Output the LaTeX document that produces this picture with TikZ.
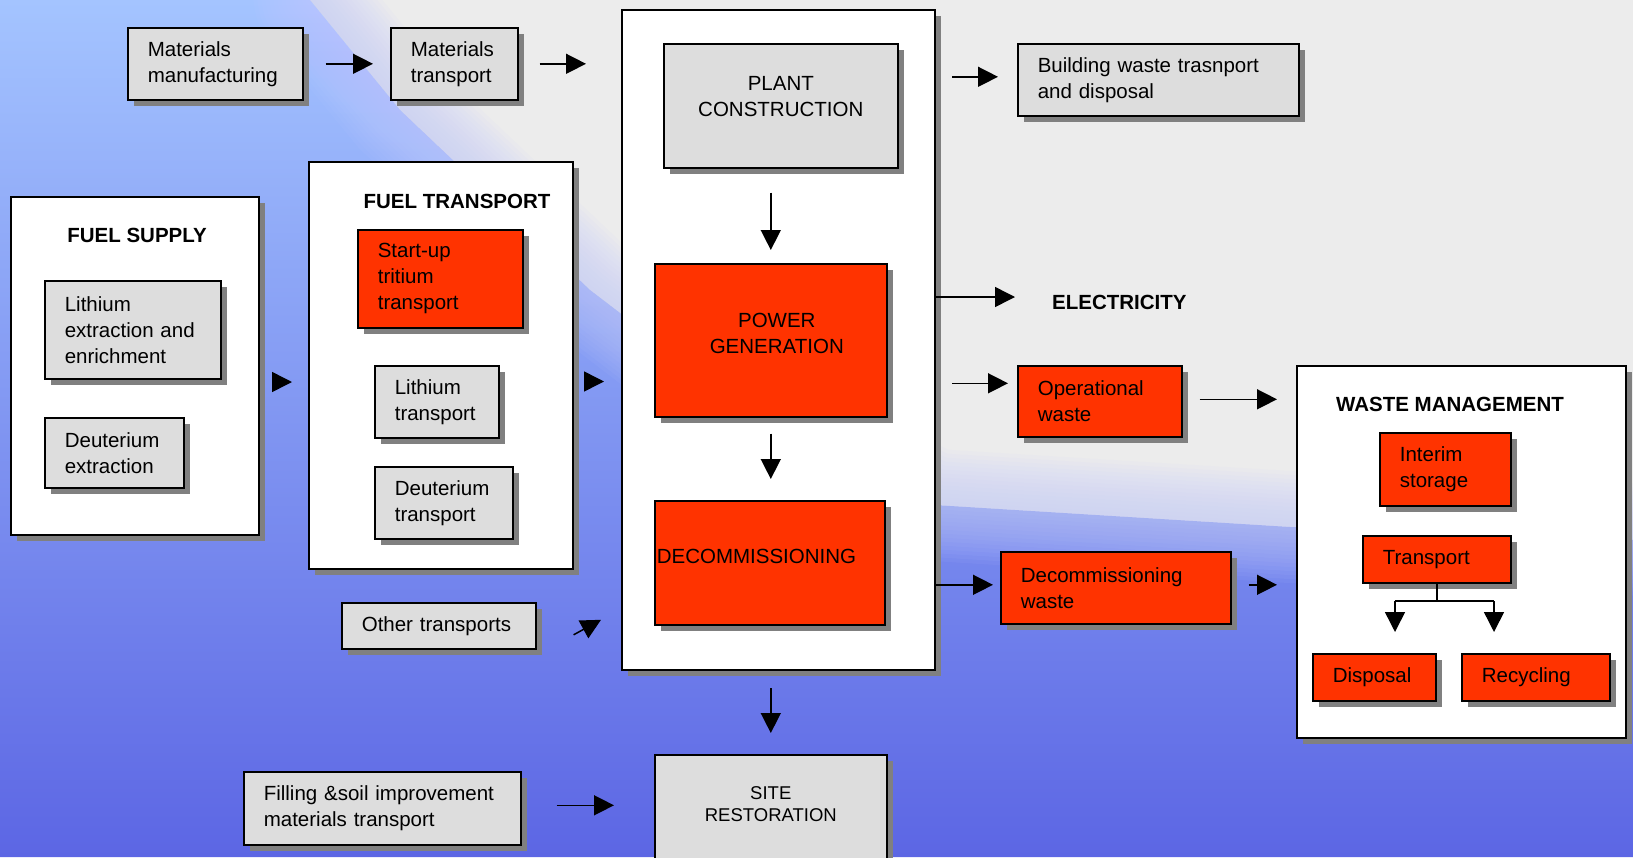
\documentclass[tikz,border=0pt]{standalone}
\usepackage{fontspec}
\setmainfont{Liberation Sans}
\usetikzlibrary{arrows.meta,shadows}
\definecolor{boxred}{HTML}{FF3300}
\definecolor{boxgray}{HTML}{DDDDDD}
\definecolor{shadowgray}{HTML}{808080}
\definecolor{bggray}{HTML}{ECECEC}
\definecolor{bluetop}{HTML}{A4C4FF}
\definecolor{bluebot}{HTML}{5C66E4}
\definecolor{lav}{HTML}{C4CCFF}
\newcommand\fsz{\fontsize{20.5pt}{26pt}\selectfont}
\begin{document}
\begin{tikzpicture}[x=1pt,y=-1pt,
  shad/.style={drop shadow={shadow xshift=6pt,shadow yshift=-6pt,opacity=1,fill=shadowgray}},
  bx/.style={shad, draw=black, line width=1.6pt, anchor=north west, font=\fsz, inner ysep=0pt},
  lbox/.style={bx, inner xsep=20pt, align=left},
  gbox/.style={lbox, fill=boxgray},
  rbox/.style={lbox, fill=boxred},
  outerbox/.style={shad, draw=black, line width=2pt, fill=white, anchor=north west, inner sep=0pt},
  ttl/.style={font=\fsz\bfseries, inner sep=0pt},
  arr/.style={line width=1.5pt, -{Triangle[length=20pt,width=20pt]}},
  plain/.style={line width=1.5pt},
]
\useasboundingbox (0,0) rectangle (1633,857);
% background
\begin{scope}
\clip (0,0) rectangle (1633,857);
\fill[bggray] (0,0) rectangle (1633,857);
\shade[top color=bluetop, bottom color=bluebot] (0,0) -- (310,0) -- (400,110) -- (590,290) -- (760,420) -- (934,505) -- (1290,527) -- (1633,540) -- (1633,857) -- (0,857) -- cycle;
\foreach \w in {8,16,...,112} {
  \draw[lav, opacity=.07, line width=\w pt, line join=round, line cap=round] (300,-60) -- (310,0) -- (400,110) -- (590,290) -- (760,420) -- (934,505) -- (1290,527) -- (1700,542);
}
\end{scope}

% outer boxes
\node[outerbox, minimum width=248pt, minimum height=338pt] (fs) at (10,196) {};
\node[outerbox, minimum width=264pt, minimum height=407pt] (ft) at (308,161) {};
\node[outerbox, minimum width=313pt, minimum height=660pt] (cb) at (621,9) {};
\node[outerbox, minimum width=329pt, minimum height=372pt] (wm) at (1296,365) {};

% titles
\node[ttl] (fsT) at (137,235) {FUEL SUPPLY};
\node[ttl] (ftT) at (457,201) {FUEL TRANSPORT};
\node[ttl] (wmT) at (1450,404) {WASTE MANAGEMENT};
\node[ttl, anchor=west] (el) at (1052,302) {ELECTRICITY};

% gray boxes
\node[gbox, text width=135pt, minimum height=72pt] (mm) at (127,27) {Materials\\manufacturing};
\node[gbox, text width=87pt, minimum height=72pt] (mt) at (390,27) {Materials\\transport};
\node[bx, fill=boxgray, align=center, minimum width=234pt, minimum height=124pt] (pc) at (663,43) {PLANT\\CONSTRUCTION\\[-8pt]\mbox{}};
\node[gbox, text width=241pt, minimum height=72pt] (bw) at (1017,43) {Building~waste~trasnport\\and~disposal};
\node[gbox, text width=136pt, minimum height=98pt] (le) at (44,280) {Lithium\\extraction~and\\enrichment};
\node[gbox, text width=99pt, minimum height=70pt] (de) at (44,417) {Deuterium\\extraction};
\node[gbox, text width=84pt, minimum height=72pt] (lt) at (374,365) {Lithium\\transport};
\node[gbox, text width=98pt, minimum height=72pt] (dt) at (374,466) {Deuterium\\transport};
\node[gbox, text width=154pt, minimum height=46pt] (ot) at (341,602) {Other~transports};
\node[gbox, text width=237pt, minimum height=73pt] (fi) at (243,771) {Filling~\&soil~improvement\\materials~transport};
\node[bx, fill=boxgray, minimum width=232pt, minimum height=130pt,
  label={[anchor=north, yshift=-29pt, align=center, font=\fontsize{18.5pt}{22pt}\selectfont]north:SITE\\RESTORATION}] (sr) at (654,754) {};

% red boxes
\node[bx, fill=boxred, align=center, minimum width=232pt, minimum height=153pt] (pg) at (654,263) {\hspace*{12pt}POWER\\\hspace*{12pt}GENERATION\\[-12pt]\mbox{}};
\node[bx, fill=boxred, align=left, inner xsep=2pt, text width=226pt, minimum height=124pt] (dc) at (654,500) {DECOMMISSIONING\\[-14pt]\mbox{}};
\node[rbox, text width=125pt, minimum height=98pt] (st) at (357,229) {Start-up\\tritium\\transport};
\node[rbox, text width=124pt, minimum height=71pt] (ow) at (1017,365) {Operational\\waste};
\node[rbox, text width=190pt, minimum height=72pt] (dw) at (1000,551) {Decommissioning\\waste};
\node[rbox, text width=91pt, minimum height=73pt] (is) at (1379,432) {Interim\\storage};
\node[rbox, text width=108pt, minimum height=47pt] (tr) at (1362,535) {Transport};
\node[rbox, text width=83pt, minimum height=47pt] (dp) at (1312,653) {Disposal};
\node[rbox, text width=108pt, minimum height=47pt] (rc) at (1461,653) {Recycling};

% arrows
\draw[arr] ([xshift=22pt]mm.east) -- ([xshift=-17pt]mt.west);
\draw[arr] ([xshift=21pt]mt.east) -- ([xshift=-35pt]cb.west |- mt.east);
\draw[arr] ([yshift=-24pt]pc.south -| pg.north) -- ([yshift=13pt]pg.north);
\draw[arr] ([yshift=-16pt]pg.south) -- ([yshift=21pt]dc.north -| pg.south);
\draw[arr] ([xshift=16pt,yshift=3pt]cb.east |- bw.west) -- ([xshift=-19pt,yshift=3pt]bw.west);
\draw[arr] ([yshift=5pt]cb.east |- el.west) -- ([xshift=-37pt,yshift=5pt]el.west);
\draw[arr] ([xshift=16pt,yshift=18pt]cb.east |- ow.west) -- ([xshift=-9pt,yshift=18pt]ow.west);
\draw[arr] ([xshift=17pt,yshift=2pt]ow.east) -- ([xshift=-19pt,yshift=2pt]wm.west |- ow.east);
\draw[arr] ([yshift=3pt]cb.east |- dw.west) -- ([xshift=-7pt,yshift=3pt]dw.west);
\draw[arr] ([xshift=17pt,yshift=3pt]dw.east) -- ([xshift=-19pt,yshift=3pt]wm.west |- dw.east);
\draw[arr] ([xshift=13pt,yshift=-16pt]fs.east) -- ([xshift=-16pt,yshift=-16pt]ft.west |- fs.east);
\draw[arr] ([xshift=11pt,yshift=-16pt]ft.east) -- ([xshift=-17pt,yshift=-16pt]cb.west |- ft.east);
\draw[arr] ([xshift=37pt,yshift=-9pt]ot.east) -- ([xshift=-20pt,yshift=6pt]cb.west |- ot.east);
\draw[arr] ([yshift=-17pt]cb.south -| sr.north) -- ([yshift=21pt]sr.north);
\draw[arr] ([xshift=35pt,yshift=3pt]fi.east) -- ([xshift=-40pt,yshift=3pt]sr.west |- fi.east);

% fork
\coordinate (fkL) at (1395,601);
\coordinate (fkR) at (1494,601);
\draw[plain] (tr.south) -- (tr.south |- fkL);
\draw[plain] (fkL) -- (fkR);
\draw[arr] (fkL) -- ([yshift=-31pt]fkL);
\draw[arr] (fkR) -- ([yshift=-31pt]fkR);
\end{tikzpicture}
\end{document}
